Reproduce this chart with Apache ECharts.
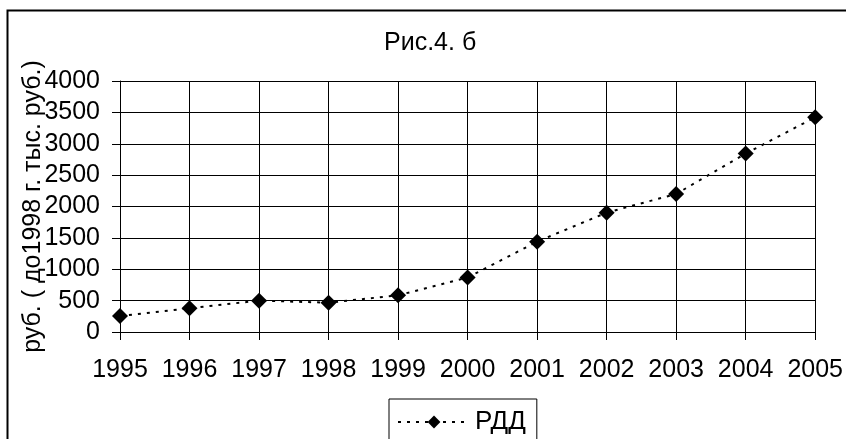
<!DOCTYPE html>
<html>
<head>
<meta charset="utf-8">
<script src="https://cdn.jsdelivr.net/npm/echarts@6/dist/echarts.min.js"></script>
<style>html,body{margin:0;padding:0;background:#fff}#c{width:846px;height:439px}</style>
</head>
<body>
<div id="c"></div>
<script>
var years = ['1995','1996','1997','1998','1999','2000','2001','2002','2003','2004','2005'];
var rdd = [255, 378, 500, 467, 585, 868, 1440, 1902, 2200, 2843, 3422];
var seriesName = 'РДД';
var titleText = 'Рис.4. б';
var yAxisName = 'руб. ( до1998 г. тыс. руб.)';

var FONT = 'Liberation Sans, Arial, sans-serif';
var FS = 25;
var chart = echarts.init(document.getElementById('c'), null, {renderer: 'canvas'});
chart.setOption({
  animation: false,
  backgroundColor: '#fff',
  textStyle: {fontFamily: FONT, color: '#000'},
  title: {
    text: titleText,
    left: 384, top: 31, padding: 0,
    textStyle: {fontFamily: FONT, fontSize: FS, fontWeight: 'normal', color: '#000'}
  },
  graphic: [{
    type: 'rect', silent: true,
    shape: {x: 7.5, y: 10.5, width: 900, height: 500},
    style: {fill: 'none', stroke: '#000', lineWidth: 2}
  }],
  legend: {
    left: 389, top: 399,
    padding: [10, 11, 30, 8],
    borderColor: '#000', borderWidth: 1,
    itemWidth: 72, itemHeight: 16, itemGap: 0,
    textStyle: {fontFamily: FONT, fontSize: 26, color: '#000'},
    data: [seriesName]
  },
  grid: {left: 120, right: 29, top: 81, bottom: 107, containLabel: false},
  xAxis: {
    type: 'category', data: years, boundaryGap: false,
    axisLine: {lineStyle: {color: '#000', width: 1}},
    axisTick: {show: true, length: 8, alignWithLabel: true, lineStyle: {color: '#000'}},
    axisLabel: {fontFamily: FONT, fontSize: FS, color: '#000', margin: 26, interval: 0},
    splitLine: {show: true, lineStyle: {color: '#000', width: 1}}
  },
  yAxis: {
    type: 'value', min: 0, max: 4000, interval: 500,
    name: yAxisName, nameLocation: 'middle', nameGap: 74, nameRotate: 90,
    nameMoveOverlap: false,
    nameTextStyle: {fontFamily: FONT, fontSize: FS, color: '#000'},
    axisLine: {show: true, lineStyle: {color: '#000', width: 1}},
    axisTick: {show: true, length: 8, lineStyle: {color: '#000'}},
    axisLabel: {fontFamily: FONT, fontSize: FS, color: '#000', margin: 20,
      formatter: function (v) { return String(v); }},
    splitLine: {show: true, lineStyle: {color: '#000', width: 1}}
  },
  series: [{
    name: seriesName, type: 'line', data: rdd,
    symbol: 'diamond', symbolSize: 16,
    itemStyle: {color: '#000'},
    lineStyle: {color: '#000', width: 2, type: [3, 6]}
  }]
});
</script>
</body>
</html>
